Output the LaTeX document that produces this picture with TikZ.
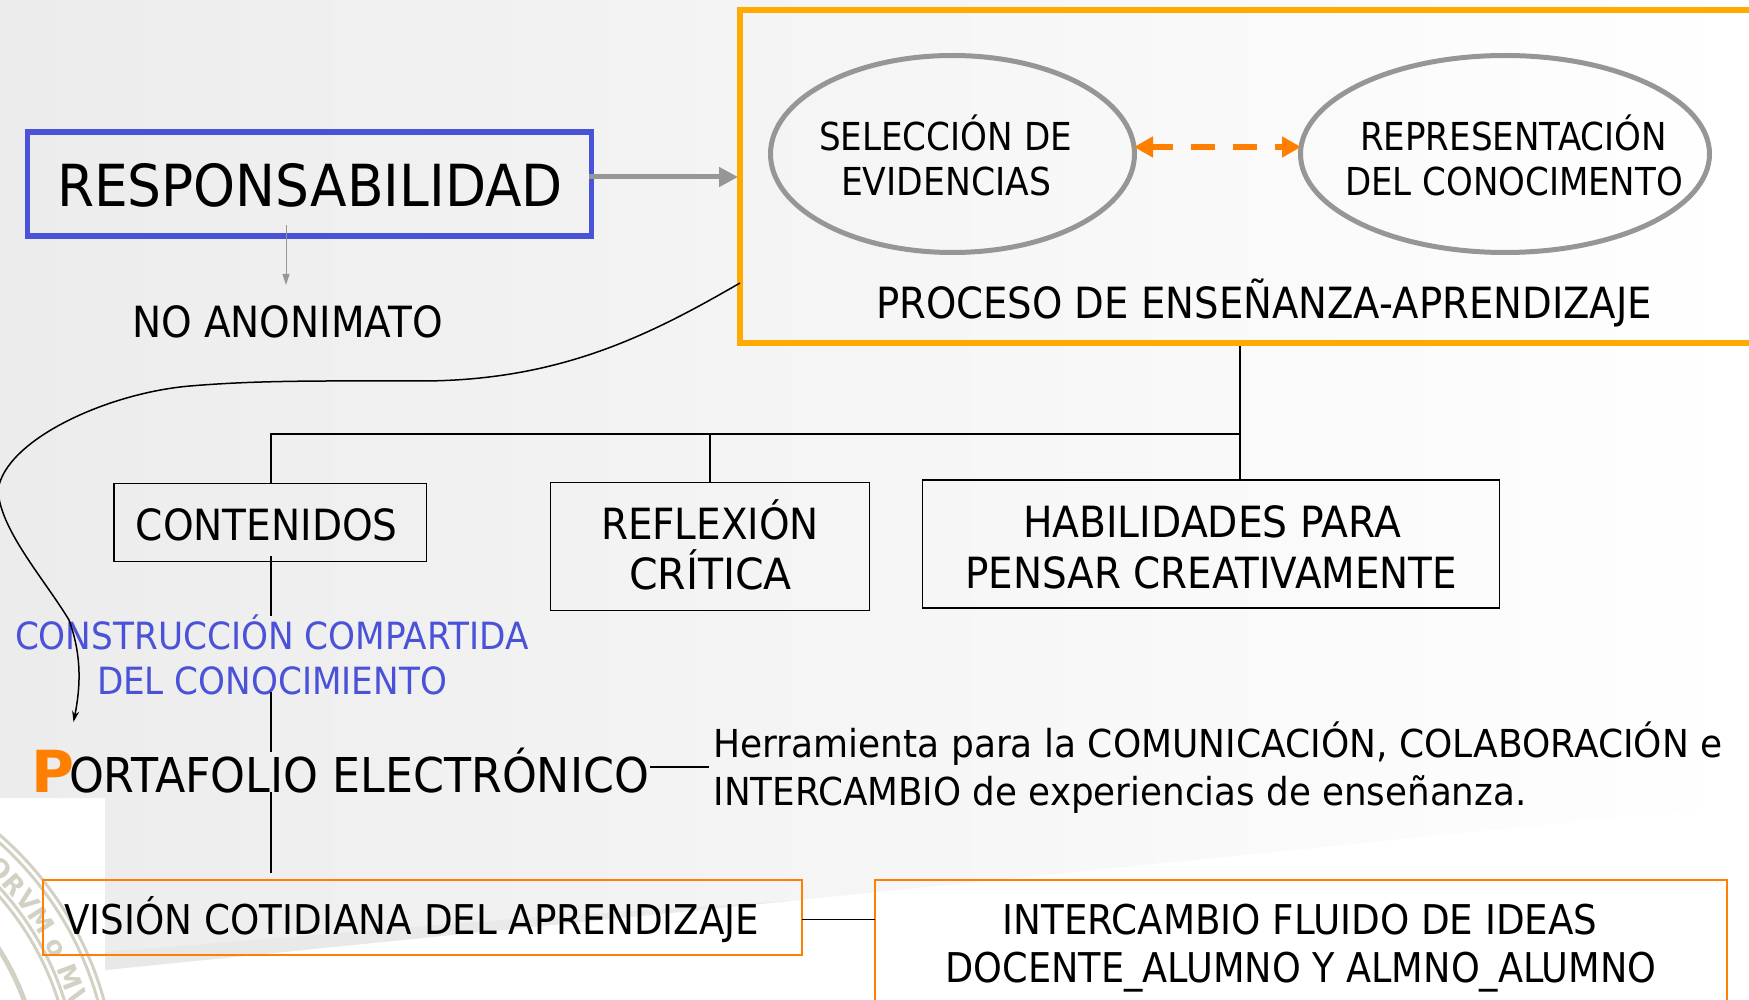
\documentclass[tikz,border=0pt]{standalone}
\usepackage{fontspec}
\setmainfont{DejaVu Sans}
\usepackage{graphicx}
\usetikzlibrary{arrows.meta,shapes.geometric,decorations.text}
\definecolor{orA}{HTML}{FFAA00}
\definecolor{orB}{HTML}{FF8000}
\definecolor{blu}{HTML}{4A52D8}
\definecolor{gry}{HTML}{969696}
\definecolor{sealc}{HTML}{D3D1C4}
\newcommand\tl[4]{\hbox to 0pt{\kern#1pt\raisebox{\dimexpr#2pt-1pt\relax}[0pt][0pt]{\resizebox{#3pt}{\height}{#4}}\hss}}
\tikzset{
  x=1pt,y=-1pt,
  base/.style={inner sep=0pt,outer sep=0pt},
  fs/.style={font=\fontsize{#1}{#1}\selectfont},
  boxk/.style={base,rectangle,draw=black,line width=1.5pt,fs=43},
  boxo/.style={base,rectangle,draw=orB,line width=2pt,fs=41},
  oval/.style={base,ellipse,draw=gry,line width=5pt,fs=38.5,outer sep=2.5pt},
  conn/.style={draw=black,line width=1.5pt},
  sealline/.style={draw=sealc,line width=3pt},
}
\begin{document}
\begin{tikzpicture}
\useasboundingbox (0,0) rectangle (1749,1000);
\clip (0,0) rectangle (1749,1000);
% background
\fill[white] (0,0) rectangle (1749,1000);
\shade[left color=black!7.5,middle color=black!3,right color=white]
  (0,0) -- (1749,0) -- (1749,804) -- (105,970) -- (105,798) -- (0,798) -- cycle;
\fill[black!10,opacity=.6] (105,970) -- (800,900) -- (500,920) -- (105,952) -- cycle;
% seal
\draw[sealline] (-222,1090) circle[radius=338];
\draw[sealline] (-222,1090) circle[radius=332];
\draw[sealline] (-222,1090) circle[radius=300];
\draw[sealline] (-222,1090) circle[radius=294];
\draw[sealline,line width=5pt] (-222,1090) circle[radius=262];
\path[decorate,decoration={text along path,text align=center,
  text={|\bfseries\fontsize{26}{26}\selectfont\color{sealc}|ORVM o MV}}]
  (-222,1090) ++(-50:304) arc[start angle=-50,end angle=-12,radius=304];
% boxes
\node[base,rectangle,draw=orA,line width=6pt,outer sep=3pt,minimum width=1020pt,minimum height=333pt] (proc) at (1250,176.5) {};
\node[base,rectangle,draw=blu,line width=5.5pt,outer sep=2.75pt,minimum width=564pt,minimum height=104pt,fs=58] (resp) at (309.5,184)
  {\tl{-252.5}{-22}{506}{RESPONSABILIDAD}};
\node[base,fs=43,minimum width=311pt,minimum height=74pt] (noan) at (286,322)
  {\tl{-154}{-15}{311}{NO ANONIMATO}};
\node[oval,minimum width=364pt,minimum height=197pt] (sel) at (952.5,154)
  {\tl{-133.5}{4}{253}{SELECCIÓN DE}\tl{-111.5}{-41}{210}{EVIDENCIAS}};
\node[oval,minimum width=409pt,minimum height=197pt] (rep) at (1505,154)
  {\tl{-145}{4}{307}{REPRESENTACIÓN}\tl{-160}{-41}{338}{DEL CONOCIMENTO}};
\node[base,fs=43] (ptitle) at (1265,302)
  {\tl{-389}{-16}{776}{PROCESO DE ENSEÑANZA-APRENDIZAJE}};
\node[boxk,minimum width=312.5pt,minimum height=78pt] (cont) at (270.25,522.5)
  {\tl{-134.5}{-16.5}{262}{CONTENIDOS}};
\node[boxk,minimum width=319pt,minimum height=128pt] (refl) at (710,546.5)
  {\tl{-109}{8.5}{218}{REFLEXIÓN}\tl{-81}{-41.5}{163}{CRÍTICA}};
\node[boxk,minimum width=577pt,minimum height=128pt] (hab) at (1211,544)
  {\tl{-188}{8}{378}{HABILIDADES PARA}\tl{-246}{-43}{492}{PENSAR CREATIVAMENTE}};
\node[base,fs=37.5,text=blu] (constr) at (272,657.5)
  {\tl{-257}{9.5}{514}{CONSTRUCCIÓN COMPARTIDA}\tl{-175}{-35.5}{350}{DEL CONOCIMIENTO}};
\node[base,fs=48,minimum width=614pt,minimum height=50pt] (port) at (343,767)
  {\tl{-312}{-24}{43}{\fontsize{58}{58}\selectfont\bfseries\textcolor{orB}{P}}\tl{-274}{-24}{580}{ORTAFOLIO ELECTRÓNICO}};
\node[base,fs=38.5,minimum width=1016pt,minimum height=90pt] (herr) at (1217,767)
  {\tl{-503.5}{11}{1009}{Herramienta para la COMUNICACIÓN, COLABORACIÓN e}\tl{-503.5}{-37}{813}{INTERCAMBIO de experiencias de enseñanza.}};
\node[boxo,minimum width=759pt,minimum height=75pt] (vis) at (422.5,917.5)
  {\tl{-358}{-15.5}{695}{VISIÓN COTIDIANA DEL APRENDIZAJE}};
\node[boxo,minimum width=852pt,minimum height=130pt] (inter) at (1301,945)
  {\tl{-298.5}{12}{595}{INTERCAMBIO FLUIDO DE IDEAS}\tl{-355.5}{-36}{711}{DOCENTE\_ALUMNO Y ALMNO\_ALUMNO}};
% coordinates
\coordinate (busR) at (1240,434);
\coordinate (busM) at (710,434);
\coordinate (busL) at (271,434);
\coordinate (respIn) at (286,225);
\coordinate (v1) at (271,556);
\coordinate (v2) at (271,616);
\coordinate (v3) at (271,692);
\coordinate (v4) at (271,752);
\coordinate (v5) at (271,792);
\coordinate (v6) at (271,873);
\coordinate (cs) at (740,283);
\coordinate (ce) at (73.5,722);
% connectors
\draw[draw=gry,line width=5pt,shorten <=-5pt,shorten >=-1pt,-{Triangle[length=19pt,width=19pt]}] ([yshift=7pt]resp.east) -- ([yshift=-.5pt]proc.west);
\draw[draw=gry,line width=1pt,-{Triangle[length=11pt,width=7pt]}] (respIn) -- (noan.north);
\draw[draw=orB,line width=6pt,dash pattern=on 24pt off 18pt,dash phase=3pt,shorten <=-3pt,shorten >=-3pt,
  {Triangle[length=19pt,width=20pt]}-{Triangle[length=19pt,width=20pt]}] ([yshift=7pt]sel.east) -- ([yshift=7pt]rep.west);
\draw[conn] (busR |- proc.south) -- (busR) -- (busL) -- (busL |- cont.north);
\draw[conn] (busM) -- (busM |- refl.north);
\draw[conn] (busR) -- (busR |- hab.north);
\draw[conn] (v1) -- (v2);
\draw[conn] (v3) -- (v4);
\draw[conn] (v5) -- (v6);
\draw[conn] (port.east) -- (herr.west);
\draw[conn] ([yshift=-2pt]vis.east) -- ([yshift=-2pt]inter.west |- vis.east);
\draw[draw=black,line width=1.5pt,-{Stealth[length=11pt,width=7pt]}]
  (cs) .. controls (650,335) and (560,381) .. (420,381)
  .. controls (330,381) and (260,380) .. (190,386)
  .. controls (107,393) and (5,440) .. (-2,490)
  .. controls (0,530) and (45,580) .. (69,620)
  .. controls (80,650) and (82,680) .. (ce);
\end{tikzpicture}
\end{document}
